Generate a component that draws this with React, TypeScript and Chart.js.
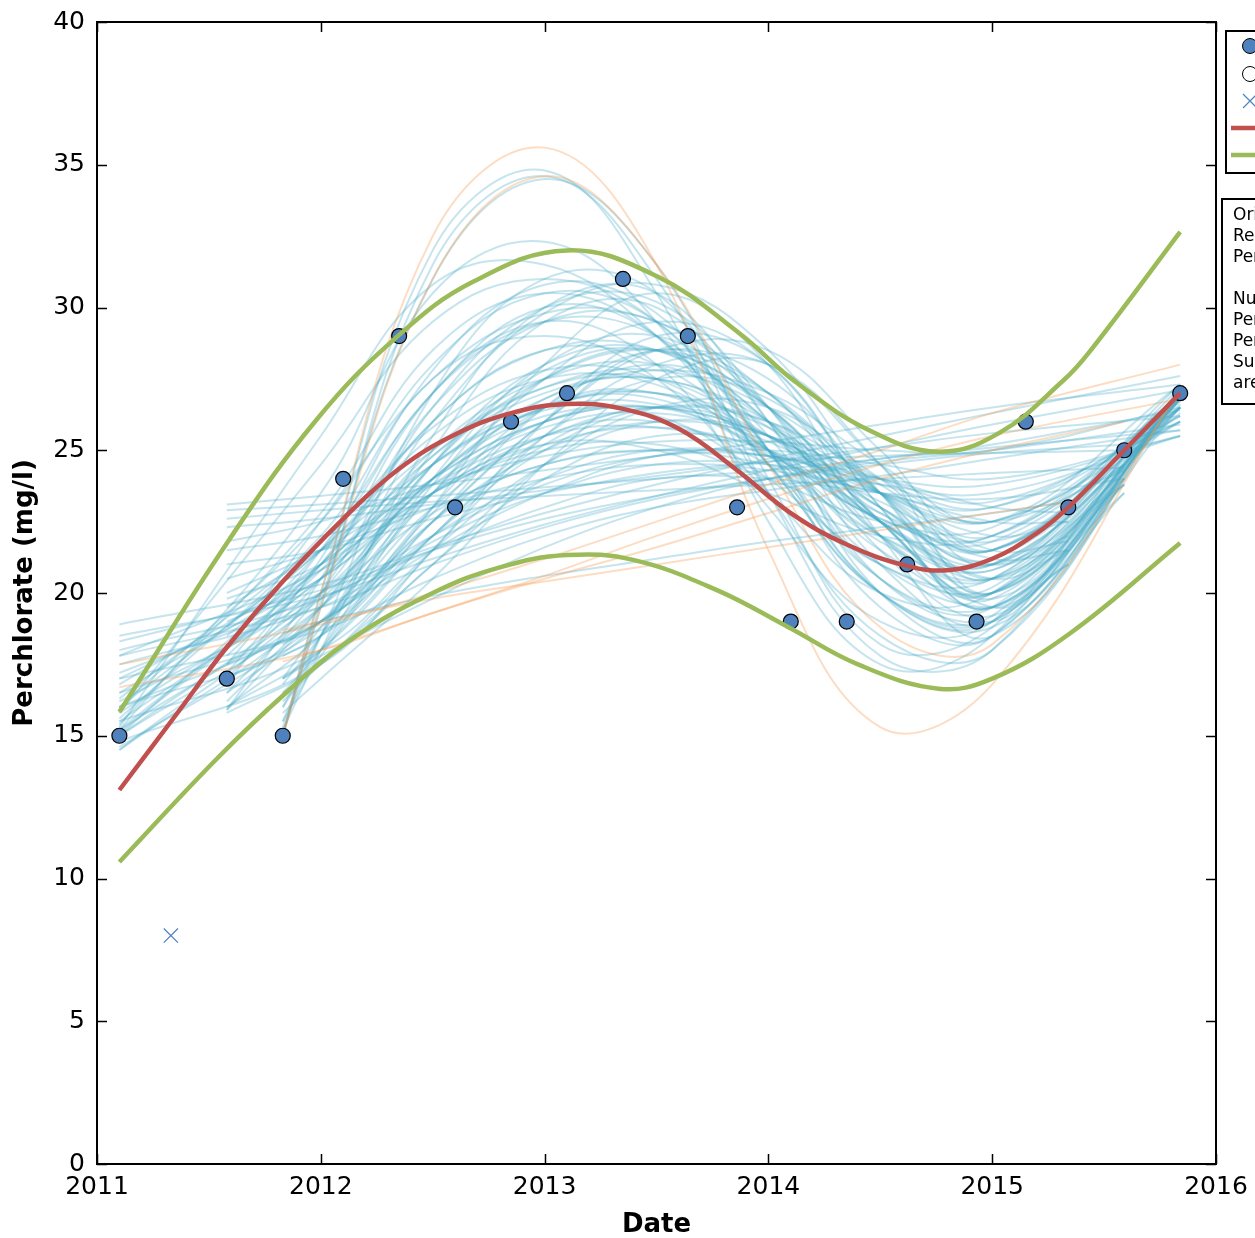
import React, { useEffect, useRef } from "react";
import { Chart, registerables } from "chart.js";

Chart.register(...registerables);

// ---------------- data ----------------
const obsYears = [2011.10, 2011.58, 2011.83, 2012.10, 2012.35, 2012.60, 2012.85, 2013.10, 2013.35, 2013.64, 2013.86, 2014.10, 2014.35, 2014.62, 2014.93, 2015.15, 2015.34, 2015.59, 2015.84];
const obsValues = [15, 17, 15, 24, 29, 23, 26, 27, 31, 29, 23, 19, 19, 21, 19, 26, 23, 25, 27];

const outlierYears = [2011.33];
const outlierValues = [8];

const fitYears = [2011.10, 2011.35, 2011.58, 2011.83, 2012.10, 2012.35, 2012.60, 2012.85, 2013.10, 2013.35, 2013.60, 2013.86, 2014.10, 2014.35, 2014.62, 2014.80, 2015.00, 2015.20, 2015.34, 2015.59, 2015.84];
const fitValues = [13.1, 15.7, 18.1, 20.4, 22.6, 24.35, 25.55, 26.3, 26.62, 26.45, 25.75, 24.3, 22.8, 21.7, 20.95, 20.8, 21.2, 22.1, 23.0, 25.0, 27.0];

const upperYears = [2011.10, 2011.59, 2011.98, 2012.34, 2012.68, 2013.10, 2013.50, 2013.87, 2014.12, 2014.45, 2014.76, 2015.03, 2015.32, 2015.44, 2015.84];
const upperValues = [15.83, 21.86, 26.06, 28.97, 30.9, 32.0, 31.1, 29.1, 27.4, 25.7, 24.95, 25.6, 27.46, 28.5, 32.65];

const lowerYears = [2011.10, 2011.53, 2011.83, 2012.13, 2012.50, 2012.80, 2013.10, 2013.40, 2013.77, 2014.09, 2014.40, 2014.76, 2015.00, 2015.35, 2015.84];
const lowerValues = [10.58, 14.15, 16.4, 18.35, 20.0, 20.9, 21.33, 21.15, 20.1, 18.8, 17.5, 16.65, 17.0, 18.6, 21.75];

// interior years at which every bootstrap curve is sampled
const gridYears = [2012.0, 2012.5, 2013.0, 2013.5, 2014.0, 2014.5, 2015.0];

// [startYear, endYear, value at start, values at gridYears..., value at end]
const blueCurves: number[][] = [
  [2011.10, 2015.84, 18.9, 20.3, 21.6, 22.8, 23.8, 24.7, 25.5, 26.3, 27.6],
  [2011.10, 2015.84, 18.5, 19.9, 21.2, 22.4, 23.4, 24.3, 25.1, 25.9, 27.1],
  [2011.10, 2015.59, 18.3, 20.1, 21.5, 22.6, 23.4, 24.0, 24.5, 24.9, 25.2],
  [2011.58, 2015.84, 23.1, 23.4, 23.8, 24.3, 24.8, 25.3, 25.9, 26.5, 27.3],
  [2011.58, 2015.84, 22.9, 23.1, 23.4, 23.7, 24.0, 24.3, 24.7, 25.1, 25.7],
  [2011.58, 2015.59, 22.6, 22.9, 23.2, 23.4, 23.6, 23.8, 24.0, 24.2, 24.4],
  [2011.83, 2015.34, 18.6, 19.0, 19.9, 20.6, 21.2, 21.8, 22.3, 22.8, 23.2],
  [2011.10, 2015.84, 17.0, 18.7, 20.5, 22.0, 23.0, 23.6, 24.1, 24.7, 25.7],
  [2011.58, 2015.84, 22.3, 22.6, 23.1, 23.6, 24.1, 24.6, 25.1, 25.6, 26.2],
  [2011.10, 2015.84, 17.8, 19.5, 21.0, 22.3, 23.3, 24.0, 24.6, 25.0, 25.9],
  [2011.83, 2015.84, 17.0, 17.8, 19.8, 21.6, 23.0, 24.0, 24.7, 25.2, 26.4],
  [2011.58, 2015.59, 21.0, 21.5, 22.6, 23.5, 24.2, 24.6, 24.8, 24.9, 25.0],
  [2011.10, 2015.84, 15.5, 20.5, 24.5, 26.4, 26.6, 24.9, 22.6, 21.8, 26.5],
  [2011.10, 2015.84, 16.0, 21.5, 25.5, 27.5, 27.3, 25.0, 22.6, 22.0, 26.8],
  [2011.10, 2015.59, 15.0, 19.5, 23.5, 26.0, 26.5, 25.0, 22.5, 21.0, 24.5],
  [2011.58, 2015.84, 17.0, 20.5, 25.0, 27.5, 28.0, 26.0, 22.5, 21.0, 26.5],
  [2011.58, 2015.84, 18.5, 21.0, 24.0, 26.0, 26.5, 25.5, 23.5, 22.5, 26.0],
  [2011.83, 2015.84, 16.0, 18.5, 24.5, 28.0, 28.5, 26.0, 22.0, 20.5, 27.0],
  [2011.83, 2015.59, 17.0, 18.8, 23.5, 26.8, 27.5, 25.8, 22.5, 20.8, 25.0],
  [2011.10, 2015.34, 16.5, 20.8, 24.0, 26.0, 26.5, 25.5, 23.5, 22.0, 22.5],
  [2011.58, 2015.34, 19.5, 21.5, 24.5, 26.5, 27.0, 25.8, 23.5, 21.5, 21.8],
  [2011.10, 2015.84, 16.8, 21.0, 24.5, 26.8, 27.8, 27.0, 24.5, 22.5, 27.3],
  [2011.10, 2015.84, 14.6, 19.0, 23.0, 25.5, 26.0, 24.5, 22.0, 21.0, 26.3],
  [2011.58, 2015.59, 16.2, 19.5, 24.0, 26.5, 26.8, 24.8, 21.8, 20.5, 23.8],
  [2011.10, 2015.84, 15.0, 21.5, 27.0, 29.5, 29.0, 25.5, 20.5, 19.5, 26.8],
  [2011.58, 2015.84, 16.5, 20.0, 26.5, 30.0, 30.2, 26.5, 21.0, 19.0, 26.5],
  [2011.83, 2015.84, 15.2, 18.0, 25.5, 30.0, 30.5, 26.0, 20.0, 18.5, 27.2],
  [2011.10, 2015.59, 16.0, 22.5, 28.0, 30.5, 29.5, 25.0, 20.0, 18.8, 23.5],
  [2011.58, 2015.59, 17.5, 21.5, 27.0, 30.0, 29.0, 24.5, 20.0, 19.0, 24.0],
  [2011.83, 2015.34, 15.5, 18.5, 25.0, 29.5, 30.0, 26.0, 20.5, 19.0, 21.5],
  [2011.10, 2015.84, 14.5, 20.0, 26.0, 29.8, 30.8, 28.5, 23.5, 20.0, 26.8],
  [2011.58, 2015.84, 18.0, 22.5, 27.5, 29.8, 29.5, 27.0, 23.5, 21.5, 26.5],
  [2011.10, 2015.84, 15.6, 22.0, 27.5, 29.0, 27.5, 23.5, 20.0, 20.0, 26.5],
  [2011.58, 2015.84, 15.9, 20.5, 27.0, 29.5, 28.0, 23.0, 19.0, 19.0, 26.8],
  [2011.10, 2015.84, 15.2, 23.5, 30.5, 32.3, 29.5, 23.5, 18.5, 18.0, 27.0],
  [2011.83, 2015.84, 15.0, 20.0, 32.0, 34.8, 30.5, 22.5, 17.5, 18.5, 27.0],
  [2011.83, 2015.84, 15.0, 19.5, 31.5, 34.6, 31.0, 23.5, 17.8, 18.0, 27.2],
  [2011.83, 2015.59, 15.0, 19.7, 31.0, 34.5, 31.5, 24.0, 18.2, 18.8, 24.8],
  [2011.10, 2015.84, 15.3, 25.5, 30.8, 31.5, 29.0, 24.5, 21.0, 20.5, 26.5],
  [2011.10, 2015.59, 15.8, 24.5, 29.5, 31.0, 29.5, 25.0, 20.5, 19.5, 23.5],
  [2011.58, 2015.84, 16.0, 18.5, 22.5, 26.5, 28.5, 27.5, 23.5, 20.0, 26.5],
  [2011.83, 2015.84, 16.5, 17.5, 21.5, 26.0, 29.0, 28.0, 23.0, 19.5, 27.0],
  [2011.10, 2015.84, 14.8, 17.5, 21.5, 25.5, 28.0, 28.0, 24.5, 21.0, 27.2],
  [2011.58, 2015.59, 16.0, 18.0, 22.0, 25.5, 27.5, 26.8, 23.5, 20.5, 24.0],
  [2011.83, 2015.84, 15.8, 17.0, 20.5, 24.5, 27.5, 28.0, 24.5, 20.0, 27.0],
  [2011.58, 2015.34, 17.5, 19.0, 22.5, 26.0, 28.5, 27.0, 22.5, 19.5, 21.0],
  [2011.10, 2015.84, 17.5, 19.5, 21.8, 23.5, 24.5, 24.5, 23.8, 23.5, 25.5],
  [2011.58, 2015.84, 20.5, 21.5, 23.0, 24.5, 25.0, 24.8, 24.0, 23.8, 25.5],
  [2011.83, 2015.59, 19.0, 19.8, 21.5, 23.0, 24.0, 24.0, 23.5, 23.3, 24.0],
  [2011.10, 2015.34, 18.0, 19.8, 22.0, 23.8, 24.8, 24.8, 24.0, 23.0, 22.8],
  [2011.58, 2015.34, 21.5, 22.0, 23.0, 24.0, 24.5, 24.3, 23.5, 22.5, 22.5],
  [2011.10, 2015.84, 16.5, 19.0, 22.5, 25.0, 26.0, 25.5, 24.0, 23.2, 26.0],
  [2011.58, 2015.84, 19.0, 20.5, 23.5, 25.5, 26.5, 26.0, 24.0, 22.5, 26.2],
  [2011.83, 2015.84, 17.8, 18.5, 22.0, 25.0, 26.5, 26.0, 23.5, 21.5, 26.8],
  [2011.10, 2015.59, 15.5, 18.0, 21.5, 24.5, 26.0, 25.5, 23.0, 21.0, 23.8],
  [2011.58, 2015.34, 15.8, 17.5, 21.0, 24.0, 25.5, 25.0, 22.5, 20.5, 21.5],
  [2011.83, 2015.84, 16.5, 18.0, 23.0, 26.5, 27.0, 25.0, 21.5, 20.0, 26.8],
  [2011.10, 2015.84, 16.2, 20.0, 23.5, 25.2, 25.0, 23.5, 22.0, 22.0, 26.0],
  [2011.10, 2015.84, 15.0, 20.0, 24.0, 26.5, 27.0, 25.5, 23.0, 21.5, 26.8],
  [2011.10, 2015.59, 16.3, 21.8, 25.8, 27.8, 27.5, 25.0, 22.0, 20.8, 24.5],
  [2011.58, 2015.84, 17.2, 21.0, 26.0, 28.5, 28.5, 26.0, 22.0, 20.0, 26.8],
  [2011.83, 2015.84, 16.0, 18.0, 23.8, 27.5, 28.5, 26.5, 22.5, 20.0, 26.9],
  [2011.10, 2015.84, 15.8, 20.5, 24.8, 27.2, 27.8, 26.5, 23.8, 22.0, 26.9],
  [2011.58, 2015.59, 18.8, 21.5, 25.0, 27.2, 27.5, 25.5, 22.5, 20.5, 24.2],
  [2011.10, 2015.34, 15.2, 21.0, 26.0, 28.5, 28.0, 25.0, 21.0, 19.5, 21.0],
  [2011.83, 2015.59, 16.8, 18.5, 24.0, 28.0, 29.0, 26.5, 22.0, 19.5, 24.0],
  [2011.10, 2015.84, 14.5, 19.5, 24.5, 27.5, 28.5, 27.0, 23.5, 20.5, 27.0],
  [2011.58, 2015.84, 17.8, 20.8, 24.8, 27.0, 27.5, 26.0, 23.0, 21.2, 26.7],
  [2011.10, 2015.84, 17.2, 20.0, 22.8, 24.5, 25.0, 24.5, 23.5, 23.0, 26.2],
  [2011.58, 2015.84, 21.8, 22.5, 23.8, 24.8, 25.3, 25.3, 25.0, 25.0, 26.5],
  [2011.10, 2015.84, 16.0, 19.0, 22.0, 24.0, 25.0, 24.8, 23.8, 23.0, 26.0],
  [2011.83, 2015.84, 18.2, 19.0, 21.5, 23.5, 24.8, 25.0, 24.5, 24.0, 25.5],
  [2011.58, 2015.59, 19.8, 21.0, 23.5, 25.2, 25.8, 25.0, 23.5, 22.5, 24.3],
  [2011.10, 2015.59, 17.0, 20.5, 23.8, 25.8, 26.3, 25.3, 23.2, 21.8, 24.5],
  [2011.83, 2015.34, 17.0, 18.0, 22.0, 25.2, 26.5, 25.5, 22.8, 21.0, 22.0],
  [2011.58, 2015.84, 15.9, 19.5, 24.5, 27.8, 28.5, 26.5, 22.5, 19.8, 26.9],
  [2011.10, 2015.84, 15.4, 22.8, 28.5, 30.5, 29.0, 24.5, 20.0, 19.2, 26.8],
  [2011.83, 2015.84, 15.3, 18.5, 27.0, 31.0, 30.5, 25.0, 19.5, 18.5, 27.1],
  [2011.58, 2015.84, 16.8, 21.2, 27.8, 30.8, 29.8, 25.0, 20.0, 19.0, 26.9],
  [2011.10, 2015.59, 15.1, 21.0, 26.5, 29.5, 29.5, 26.5, 21.5, 19.2, 23.8],
  [2011.83, 2015.84, 15.5, 17.8, 23.0, 28.0, 30.5, 28.0, 22.0, 18.5, 27.0],
  [2011.58, 2015.84, 16.5, 19.0, 23.5, 27.5, 29.5, 28.0, 23.0, 19.5, 26.8],
  [2011.10, 2015.84, 16.0, 18.5, 22.5, 26.0, 28.5, 28.5, 25.0, 21.5, 27.3],
  [2011.58, 2015.59, 17.0, 18.8, 22.8, 26.5, 28.0, 26.5, 22.5, 19.8, 23.8],
  [2011.10, 2015.84, 17.8, 20.8, 23.5, 25.0, 25.2, 24.0, 22.5, 22.3, 26.5],
  [2011.58, 2015.34, 20.0, 21.5, 23.8, 25.5, 25.8, 24.8, 22.8, 21.2, 21.5],
  [2011.83, 2015.84, 16.2, 17.5, 21.0, 24.5, 26.5, 26.5, 24.0, 21.5, 27.0],
  [2011.10, 2015.84, 15.2, 19.8, 24.0, 26.2, 26.2, 24.0, 21.0, 20.2, 26.6],
];

const orangeCurves: number[][] = [
  [2011.10, 2015.84, 17.5, 18.9, 20.0, 21.2, 22.5, 23.8, 25.0, 26.3, 28.0],
  [2011.10, 2015.59, 16.7, 18.0, 19.3, 20.5, 21.6, 22.8, 24.0, 25.0, 26.0],
  [2011.83, 2015.34, 18.7, 19.0, 19.8, 20.4, 21.0, 21.6, 22.2, 22.8, 23.2],
  [2011.83, 2015.84, 17.6, 18.0, 19.3, 20.6, 22.0, 23.3, 24.5, 25.5, 26.8],
  [2011.83, 2015.84, 15.0, 20.0, 32.5, 35.6, 31.5, 21.5, 15.3, 16.8, 27.2],
  [2011.83, 2015.84, 15.0, 19.5, 31.0, 34.6, 31.5, 24.5, 18.8, 18.2, 27.0],
];

const xTicks = [2011, 2012, 2013, 2014, 2015, 2016];
const yTicks = [0, 5, 10, 15, 20, 25, 30, 35, 40];

const legendNotes = [
  "Original data: 19 samples",
  "Regression: cubic polynomial",
  "Percentile band: 2.5% - 97.5%",
  "",
  "Number of bootstrap samples: 100",
  "Percentage of curves within band: 95%",
  "Percentage outside band: 5%",
  "Suspected outliers (x)",
  "are excluded from the fit",
];

// ---------------- helpers ----------------
const CANVAS_W = 1420;
const CANVAS_H = 1238;
const PLOT_LEFT = 97;
const PLOT_RIGHT = 1216;
const PLOT_TOP = 22;
const PLOT_BOTTOM = 1164;

const BLUE = "rgba(75, 172, 198, 0.32)";
const ORANGE = "rgba(247, 150, 70, 0.32)";
const RED = "#c0504d";
const GREEN = "#9bbb59";
const POINT = "#4f81bd";

function zip(xs: number[], ys: number[]) {
  return xs.map((x, i) => ({ x, y: ys[i] }));
}

function curvePoints(row: number[]) {
  const [s, e, ...ys] = row;
  const xs = [s, ...gridYears, e];
  return xs.map((x, i) => ({ x, y: ys[i] }));
}

const framePlugin = {
  id: "frameAndTicks",
  afterDatasetsDraw(chart: any) {
    const { ctx, chartArea, scales } = chart;
    const { left, right, top, bottom } = chartArea;
    ctx.save();
    ctx.strokeStyle = "#000";
    ctx.lineWidth = 1.5;
    const tl = 10;
    xTicks.forEach((t) => {
      const px = Math.round(scales.x.getPixelForValue(t)) + 0.5;
      ctx.beginPath();
      ctx.moveTo(px, bottom);
      ctx.lineTo(px, bottom - tl);
      ctx.moveTo(px, top);
      ctx.lineTo(px, top + tl);
      ctx.stroke();
    });
    yTicks.forEach((t) => {
      const py = Math.round(scales.y.getPixelForValue(t)) + 0.5;
      ctx.beginPath();
      ctx.moveTo(left, py);
      ctx.lineTo(left + tl, py);
      ctx.moveTo(right, py);
      ctx.lineTo(right - tl, py);
      ctx.stroke();
    });
    ctx.lineWidth = 2;
    ctx.strokeRect(left, top, right - left, bottom - top);
    ctx.restore();
  },
  afterDraw(chart: any) {
    const { ctx } = chart;
    ctx.save();
    const lx = 1226;
    const ly = 31;
    ctx.fillStyle = "#fff";
    ctx.fillRect(lx, ly, 190, 142);
    ctx.strokeStyle = "#000";
    ctx.lineWidth = 2;
    ctx.strokeRect(lx, ly, 190, 142);
    const mx = 1250;
    ctx.beginPath();
    ctx.arc(mx, 46, 7.5, 0, Math.PI * 2);
    ctx.fillStyle = POINT;
    ctx.fill();
    ctx.lineWidth = 1;
    ctx.strokeStyle = "#000";
    ctx.stroke();
    ctx.beginPath();
    ctx.arc(mx, 74, 7.5, 0, Math.PI * 2);
    ctx.fillStyle = "#fff";
    ctx.fill();
    ctx.stroke();
    ctx.strokeStyle = POINT;
    ctx.lineWidth = 1.2;
    ctx.beginPath();
    ctx.moveTo(mx - 7, 94);
    ctx.lineTo(mx + 7, 108);
    ctx.moveTo(mx + 7, 94);
    ctx.lineTo(mx - 7, 108);
    ctx.stroke();
    ctx.lineWidth = 4.5;
    ctx.strokeStyle = RED;
    ctx.beginPath();
    ctx.moveTo(1231, 128);
    ctx.lineTo(1275, 128);
    ctx.stroke();
    ctx.strokeStyle = GREEN;
    ctx.beginPath();
    ctx.moveTo(1231, 155);
    ctx.lineTo(1275, 155);
    ctx.stroke();
    const bx = 1222;
    const by = 199;
    ctx.fillStyle = "#fff";
    ctx.fillRect(bx, by, 200, 205);
    ctx.strokeStyle = "#000";
    ctx.lineWidth = 2;
    ctx.strokeRect(bx, by, 200, 205);
    ctx.fillStyle = "#000";
    ctx.font = "17px 'DejaVu Sans'";
    ctx.textBaseline = "middle";
    ctx.textAlign = "left";
    legendNotes.forEach((line, i) => {
      if (line) ctx.fillText(line, 1233, 216 + i * 20.9);
    });
    ctx.restore();
  },
};

export default function App() {
  const ref = useRef<HTMLCanvasElement | null>(null);

  useEffect(() => {
    if (!ref.current) return;
    const datasets: any[] = [];

    const fitLine = (label: string, xs: number[], ys: number[], color: string, order: number) => ({
      label,
      data: zip(xs, ys),
      borderColor: color,
      borderWidth: 4.5,
      pointRadius: 0,
      tension: 0.4,
      fill: false,
      order,
    });

    datasets.push(fitLine("Fit", fitYears, fitValues, RED, 0));
    datasets.push(fitLine("Upper", upperYears, upperValues, GREEN, 1));
    datasets.push(fitLine("Lower", lowerYears, lowerValues, GREEN, 1));
    datasets.push({
      label: "Data",
      data: zip(obsYears, obsValues),
      showLine: false,
      pointRadius: 7.5,
      pointBackgroundColor: POINT,
      pointBorderColor: "#000",
      pointBorderWidth: 1.2,
      order: 2,
    });
    datasets.push({
      label: "Outlier",
      data: zip(outlierYears, outlierValues),
      showLine: false,
      pointStyle: "crossRot",
      pointRadius: 10,
      pointBorderColor: POINT,
      pointBorderWidth: 1.2,
      order: 2,
    });
    orangeCurves.forEach((row, i) => {
      datasets.push({
        label: "Orange " + i,
        data: curvePoints(row),
        borderColor: ORANGE,
        borderWidth: 2,
        pointRadius: 0,
        tension: 0.4,
        fill: false,
        order: 3,
      });
    });
    blueCurves.forEach((row, i) => {
      datasets.push({
        label: "Bootstrap " + i,
        data: curvePoints(row),
        borderColor: BLUE,
        borderWidth: 2,
        pointRadius: 0,
        tension: 0.4,
        fill: false,
        order: 4,
      });
    });

    const tickFont = { family: "'DejaVu Sans'", size: 25 };
    const titleFont = { family: "'DejaVu Sans'", size: 26, weight: "bold" as const, lineHeight: 1 };

    const chart = new Chart(ref.current, {
      type: "line",
      data: { datasets },
      options: {
        responsive: false,
        animation: false,
        events: [],
        layout: { padding: { left: 0, right: CANVAS_W - PLOT_RIGHT, top: PLOT_TOP, bottom: 0 } },
        plugins: { legend: { display: false }, tooltip: { enabled: false } },
        scales: {
          x: {
            type: "linear",
            min: 2011,
            max: 2016,
            grid: { display: false, drawTicks: false },
            border: { display: false },
            ticks: {
              stepSize: 1,
              color: "#000",
              font: tickFont,
              padding: 8,
              maxRotation: 0,
              callback: (v: any) => String(v),
            },
            title: { display: true, text: "Date", color: "#000", font: titleFont, padding: { top: 0, bottom: 0 } },
            afterFit: (s: any) => {
              s.height = CANVAS_H - PLOT_BOTTOM;
              s.paddingLeft = 0;
              s.paddingRight = 0;
            },
          },
          y: {
            type: "linear",
            min: 0,
            max: 40,
            grid: { display: false, drawTicks: false },
            border: { display: false },
            ticks: {
              stepSize: 5,
              color: "#000",
              font: tickFont,
              padding: 12,
              callback: (v: any) => String(v),
            },
            title: { display: true, text: "Perchlorate (mg/l)", color: "#000", font: titleFont, padding: { top: 12, bottom: 0 } },
            afterFit: (s: any) => {
              s.width = PLOT_LEFT;
              s.paddingTop = 0;
              s.paddingBottom = 0;
            },
          },
        },
      },
      plugins: [framePlugin],
    });
    return () => chart.destroy();
  }, []);

  return (
    <div style={{ position: "fixed", left: 0, top: 0, width: "1255px", height: "1238px", overflow: "hidden", background: "#fff" }}>
      <canvas ref={ref} width={CANVAS_W} height={CANVAS_H} style={{ display: "block" }} />
    </div>
  );
}
